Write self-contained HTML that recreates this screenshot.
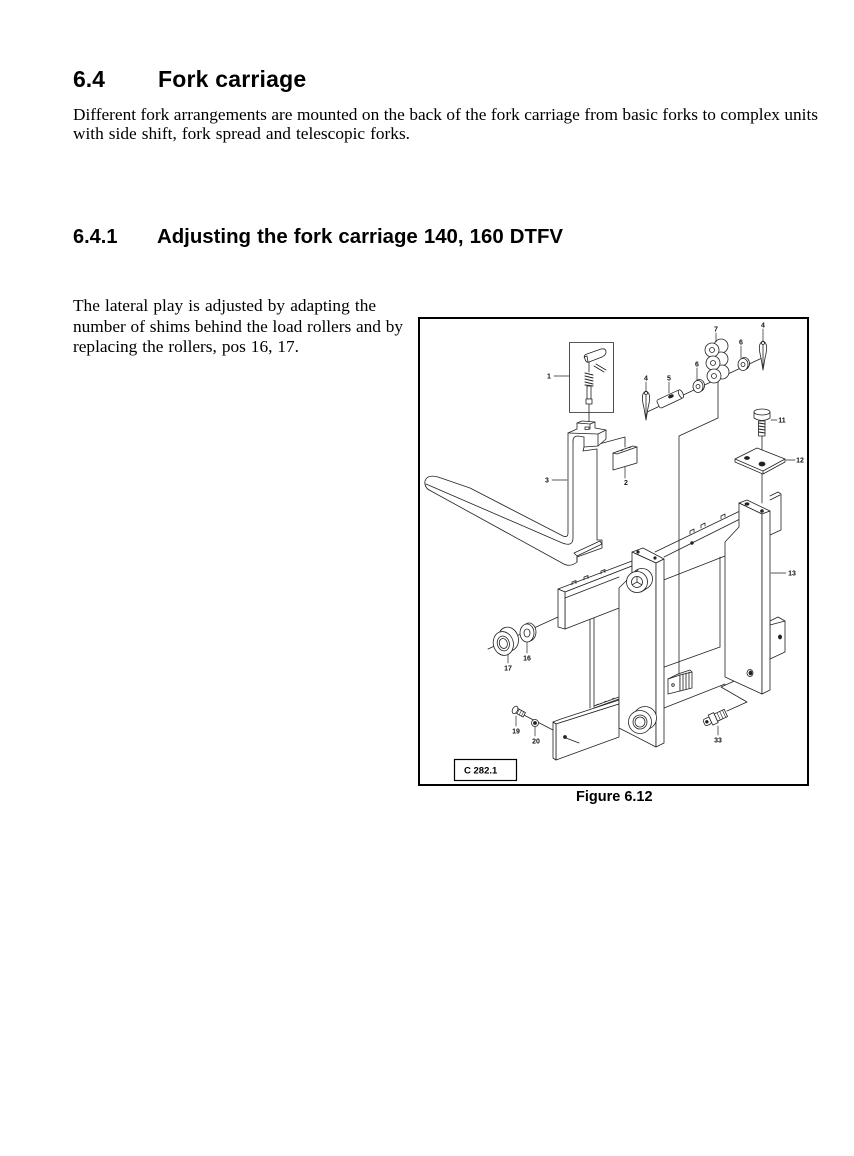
<!DOCTYPE html>
<html><head><meta charset="utf-8">
<style>
html,body{margin:0;padding:0;background:#fff;}
body{width:854px;height:1156px;position:relative;overflow:hidden;}
.t{position:absolute;white-space:nowrap;color:#000;}
.h{font-family:"Liberation Sans",Arial,sans-serif;font-weight:bold;}
.p{font-family:"Liberation Serif","Times New Roman",serif;font-size:17.3px;line-height:20px;}
.j{text-align:justify;text-align-last:justify;}
</style></head><body>

<div class="t h" style="left:73px;top:65.5px;font-size:23px;line-height:26px;">6.4</div>
<div class="t h" style="left:158px;top:65.5px;font-size:23px;line-height:26px;letter-spacing:0.2px;">Fork carriage</div>

<div class="t p j" style="left:73px;top:104.7px;width:745px;">Different fork arrangements are mounted on the back of the fork carriage from basic forks to complex units</div>
<div class="t p j" style="left:73px;top:124.2px;width:337px;">with side shift, fork spread and telescopic forks.</div>

<div class="t h" style="left:73px;top:225px;font-size:20px;line-height:24px;">6.4.1</div>
<div class="t h j" style="left:157px;top:224.7px;width:406px;font-size:20.4px;line-height:24px;">Adjusting the fork carriage 140, 160 DTFV</div>

<div class="t p j" style="left:73px;top:296.2px;width:303px;">The lateral play is adjusted by adapting the</div>
<div class="t p j" style="left:73px;top:316.7px;width:330px;">number of shims behind the load rollers and by</div>
<div class="t p j" style="left:73px;top:337.2px;width:226px;">replacing the rollers, pos 16, 17.</div>

<div class="t h" style="left:576px;top:788px;font-size:14.5px;line-height:18px;">Figure 6.12</div>

<svg style="position:absolute;left:0;top:0" width="854" height="1156" viewBox="0 0 854 1156">
<rect x="419" y="318" width="389" height="467" fill="none" stroke="#000" stroke-width="2"/>
<rect x="454.5" y="759.5" width="62" height="21" fill="none" stroke="#000" stroke-width="1.2"/>
<text x="464" y="773.5" font-family="Liberation Sans, Arial, sans-serif" font-weight="bold" font-size="9.5">C 282.1</text>

<g fill="none" stroke="#222" stroke-width="0.8" stroke-linejoin="round" stroke-linecap="round">
<!-- axis / connection lines -->
<path d="M645,413 L762,358"/>
<path d="M718,382 L718,418 L679,436 L679,674"/>
<path d="M762,436 L762,503"/>
<path d="M488,649 L558,617"/>
<path d="M518,712 L553,730"/>
<path d="M727,711 L747,702 L721,687 L750,674"/>
<path d="M599,444 L625,437 L625,447"/>
<path d="M589,404 L589,428"/>

<!-- frame back parts -->
<path d="M770,496 L778,492 L781,494 L781,530 L770,535" fill="#fff"/>
<path d="M770,500 L780,495"/>
<path d="M770,621 L778,617 L785,621 L785,652 L770,659 Z" fill="#fff"/>
<path d="M770,625 L785,621"/>
<ellipse cx="780" cy="637" rx="1.6" ry="2" fill="#222"/>

<path d="M590,617 L590,708 M594,616 L594,707 M594,706 L619,697 M594,708 L619,699"/>
<path d="M596,705 l2,-1 M600,704 l2,-1 M604,702 l2,-1 M608,701 l2,-1 M612,699 l2,-1" stroke-width="0.6"/>
<path d="M720,557 L720,647"/>
<path d="M656,670 L720,647"/>
<path d="M664,708 L725,684"/>
<path d="M656,583 L725,556"/>
<path d="M655,552 L740,511"/>
<path d="M664,557 L740,519"/>
<path d="M690,534 l0,-3 l4,-2 l0,3 M701,528 l0,-3 l4,-2 l0,3 M721,519 l0,-3 l4,-2 l0,3"/>
<circle cx="692" cy="543" r="1.3" fill="#222"/>

<!-- right plate 13 -->
<path d="M739,503 L747,500 L770,511 L762,514 Z" fill="#fff"/>
<path d="M739,503 L762,514 L762,694 L725,677 L725,542 L739,527 Z" fill="#fff"/>
<path d="M762,514 L770,511 L770,690 L762,694 Z" fill="#fff"/>
<ellipse cx="747" cy="504" rx="2" ry="1.2" fill="#222"/>
<circle cx="762" cy="511" r="1.4" fill="#222"/>
<ellipse cx="750" cy="673" rx="3" ry="3.5" fill="#fff"/>
<ellipse cx="750.5" cy="673" rx="1.5" ry="2" fill="#222"/>

<!-- upper crossbar left segment -->
<path d="M558,589 L566,586 L632,561 L632,566 L565,592 Z" fill="#fff"/>
<path d="M565,592 L632,566 L632,603 L565,629 Z" fill="#fff"/>
<path d="M558,589 L565,592 L565,629 L558,627 Z" fill="#fff"/>
<path d="M565,598 L619,577"/>
<path d="M572,585 l0,-3 l4,-1.5 l0,3 M584,580 l0,-3 l4,-1.5 l0,3 M601,574 l0,-3 l4,-1.5 l0,3"/>

<!-- lower crossbar left segment -->
<path d="M553,722 L561,719 L619,700 L619,704 L556,724 Z" fill="#fff"/>
<path d="M556,724 L619,704 L619,737 L556,760 Z" fill="#fff"/>
<path d="M553,722 L556,724 L556,760 L553,758 Z" fill="#fff"/>
<circle cx="565" cy="737" r="1.5" fill="#222"/>
<path d="M566,738 L579,743"/>

<!-- left plate -->
<path d="M632,552 L643,548 L664,559 L656,563 Z" fill="#fff"/>
<path d="M632,552 L656,563 L656,747 L619,728 L619,588 L632,575 Z" fill="#fff"/>
<path d="M656,563 L664,559 L664,743 L656,747 Z" fill="#fff"/>
<circle cx="638" cy="552" r="1.2" fill="#222"/>
<circle cx="655" cy="558" r="1.2" fill="#222"/>

<!-- top roller -->
<circle cx="642" cy="579" r="10.5" fill="#fff"/>
<path d="M633,574 L638,570 M641,592 L646,589"/>
<circle cx="637" cy="582" r="10.5" fill="#fff"/>
<circle cx="637" cy="582" r="5.5"/>
<path d="M637,582 L637,576.5 M637,582 L641.8,584.8 M637,582 L632.2,584.8"/>

<!-- bottom roller -->
<circle cx="645" cy="718" r="11.5" fill="#fff"/>
<circle cx="640" cy="722" r="11.5" fill="#fff"/>
<circle cx="640" cy="722" r="7"/>
<circle cx="640" cy="722" r="5"/>

<!-- block -->
<path d="M668,679 L680,675 L680,691 L668,694 Z" fill="#fff"/>
<path d="M680,675 L692,672 L692,688 L680,691 Z" fill="#fff"/>
<path d="M668,679 L678,674 L690,670 L692,672"/>
<path d="M683,674 L683,690 M686,673 L686,689 M689,672 L689,688"/>
<circle cx="673" cy="685" r="1.3"/>

<!-- fork -->
<path d="M568,433 L568,533 Q568,538 563,536 L470,488 L438,477 Q427,474 425,481 Q424,488 431,491 L562,563 Q570,568 577,562 L577,557 L602,548 L602,540 L597,540 L597,449 L583,451 L584,447 L598,446 L606,439 L606,430 L595,428 L595,422 L582,421 L577,423 L577,429 Z" fill="#fff"/>
<path d="M426,484 L560,542 Q573,548 573,538 L573,441"/>
<path d="M574,553 L600,541 L602,544 L577,556 Z M577,556 L577,562"/>
<path d="M568,433 L598,434 L606,430 M598,434 L598,446"/>
<path d="M573,441 Q573,436 578,436 L584,437 L584,447"/>
<path d="M577,423 L590,424 L595,422 M590,424 L590,429"/>
<rect x="585" y="427" width="4" height="2.5"/>

<!-- part 2 shim -->
<path d="M613,453 L633,446 L637,447 L637,463 L613,470 Z" fill="#fff"/>
<path d="M613,453 L617,454 L637,447"/>
<path d="M617,452 l2,-1 M621,451 l2,-1 M625,449 l2,-1 M629,448 l2,-1" stroke-width="0.6"/>

<!-- part 1 box contents -->
<rect x="569.5" y="342.5" width="44" height="70" fill="#fff"/>
<path d="M585,359 Q583,355 587,354 L601,349 Q606,348 606,352 Q606,355 602,357 L589,362 Q586,363 585,359 Z" fill="#fff"/>
<path d="M584,357 L587,356 L588,362"/>
<path d="M594,366 L604,372 M596,364 L606,370"/>
<path d="M589,362 L589,372"/>
<path d="M585,373 L593,375 M585,376 L593,378 M585,379 L593,381 M585,382 L593,384 M585,385 L593,386" stroke-width="1"/>
<rect x="587" y="386" width="4" height="13" fill="#fff"/>
<rect x="586" y="399" width="6" height="5" fill="#fff"/>
<path d="M589,404 L589,413"/>

<!-- part 4 left -->
<path d="M646,391 C641,393 642,400 644,408 L646,420 L648,408 C650,400 651,393 646,391 Z" fill="#fff"/>
<path d="M646,395 L646,417"/>
<circle cx="646" cy="393" r="1.5"/>
<!-- part 5 -->
<g transform="rotate(-25 670 399)">
<rect x="657" y="394.5" width="25" height="9" rx="2" fill="#fff"/>
<ellipse cx="682" cy="399" rx="2" ry="4.5" fill="#fff"/>
<ellipse cx="672" cy="397" rx="2.5" ry="1.3" fill="#222"/>
</g>
<!-- part 6 left -->
<ellipse cx="699.5" cy="385.5" rx="5" ry="6" fill="#fff"/>
<ellipse cx="698" cy="386.5" rx="5" ry="6" fill="#fff"/>
<circle cx="698" cy="386.5" r="2"/>
<!-- part 7 chain -->
<circle cx="721" cy="346" r="7" fill="#fff"/>
<circle cx="721" cy="359" r="7" fill="#fff"/>
<circle cx="722" cy="372" r="7" fill="#fff"/>
<circle cx="712" cy="350" r="7" fill="#fff"/>
<circle cx="713" cy="363" r="7" fill="#fff"/>
<circle cx="714" cy="376" r="7" fill="#fff"/>
<circle cx="712" cy="350" r="2.5"/>
<circle cx="713" cy="363" r="2.5"/>
<circle cx="714" cy="376" r="2.5"/>
<!-- part 6 right -->
<ellipse cx="744.5" cy="363.5" rx="5" ry="6" fill="#fff"/>
<ellipse cx="743" cy="364.5" rx="5" ry="6" fill="#fff"/>
<circle cx="743" cy="364.5" r="2"/>
<!-- part 4 right -->
<path d="M763,341 C758,343 759,350 761,358 L763,370 L765,358 C767,350 768,343 763,341 Z" fill="#fff"/>
<path d="M763,345 L763,367"/>
<circle cx="763" cy="343" r="1.5"/>

<!-- part 11 -->
<path d="M754,412 L754,418 Q762,423 770,418 L770,412" fill="#fff"/>
<ellipse cx="762" cy="412" rx="8" ry="3" fill="#fff"/>
<rect x="758.5" y="421" width="6.5" height="15" fill="#fff"/>
<path d="M758.5,423 L765,424 M758.5,426 L765,427 M758.5,429 L765,430 M758.5,432 L765,433" stroke-width="1"/>

<!-- part 12 -->
<path d="M735,459 L735,462 L763,474 L785,462 L785,459" fill="#fff"/>
<path d="M735,459 L757,448 L785,459 L763,471 Z" fill="#fff"/>
<path d="M763,471 L763,474"/>
<ellipse cx="747" cy="458" rx="2.5" ry="1.5" fill="#222"/>
<ellipse cx="762" cy="464" rx="3" ry="2" fill="#222"/>

<!-- part 17 & 16 -->
<g transform="rotate(-15 505 642)">
<ellipse cx="509" cy="640" rx="10" ry="12" fill="#fff"/>
<ellipse cx="503" cy="643" rx="10" ry="12" fill="#fff"/>
<ellipse cx="503" cy="643" rx="6" ry="7.5"/>
<ellipse cx="503" cy="643" rx="4" ry="5"/>
</g>
<ellipse cx="529" cy="632" rx="7" ry="9" fill="#fff"/>
<ellipse cx="527" cy="633" rx="7" ry="9" fill="#fff"/>
<ellipse cx="527" cy="633" rx="3" ry="4"/>

<!-- part 19 -->
<g transform="rotate(28 519 712)">
<rect x="515" y="709.5" width="10" height="5" fill="#fff"/>
<path d="M518,709.5 L518,714.5 M520.5,709.5 L520.5,714.5 M523,709.5 L523,714.5" stroke-width="0.6"/>
<ellipse cx="514.5" cy="712" rx="2.5" ry="4" fill="#fff"/>
</g>
<!-- part 20 -->
<circle cx="535" cy="723" r="3.5" fill="#fff"/>
<circle cx="535" cy="723" r="1.5" fill="#222"/>

<!-- part 33 -->
<g transform="rotate(-25 715 718)">
<rect x="703" y="714.5" width="7" height="7" rx="2" fill="#fff"/>
<rect x="710" y="712.5" width="6" height="11" fill="#fff"/>
<rect x="716" y="714" width="11" height="8" fill="#fff"/>
<path d="M719,714 L719,722 M722,714 L722,722 M725,714 L725,722" stroke-width="0.6"/>
<circle cx="706" cy="718" r="1.3" fill="#222"/>
</g>

<!-- leaders -->
<g stroke-width="0.7">
<path d="M554,376 L569,376"/>
<path d="M625,467 L625,478"/>
<path d="M552,480 L567,480"/>
<path d="M646,382 L646,391"/>
<path d="M669,382 L669,393"/>
<path d="M697,368 L697,380"/>
<path d="M716,333 L716,342"/>
<path d="M741,346 L741,358"/>
<path d="M763,329 L763,341"/>
<path d="M771,420 L777,420"/>
<path d="M786,460 L795,460"/>
<path d="M771,573 L786,573"/>
<path d="M527,642 L527,653"/>
<path d="M508,654 L508,663"/>
<path d="M516,716 L516,726"/>
<path d="M535,727 L535,736"/>
<path d="M718,726 L718,735"/>
</g>
</g>

<g font-family="Liberation Sans, Arial, sans-serif" font-weight="bold" font-size="7" fill="#111" text-anchor="middle">
<text x="549" y="378.5">1</text>
<text x="626" y="485">2</text>
<text x="547" y="482.5">3</text>
<text x="646" y="380.5">4</text>
<text x="669" y="380.5">5</text>
<text x="697" y="366.5">6</text>
<text x="716" y="331.5">7</text>
<text x="741" y="344.5">6</text>
<text x="763" y="327.5">4</text>
<text x="782" y="422.5">11</text>
<text x="800" y="462.5">12</text>
<text x="792" y="575.5">13</text>
<text x="527" y="660.5">16</text>
<text x="508" y="670.5">17</text>
<text x="516" y="733.5">19</text>
<text x="536" y="743.5">20</text>
<text x="718" y="742.5">33</text>
</g>
</svg>
</body></html>
